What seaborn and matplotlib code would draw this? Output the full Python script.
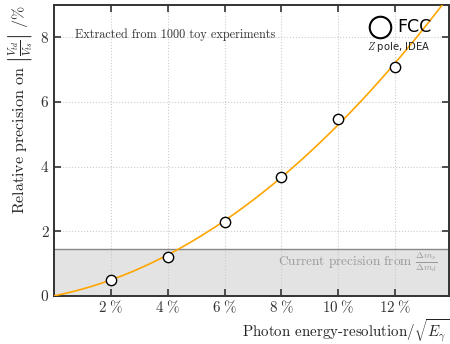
import numpy as np
import pandas as pd
import matplotlib
matplotlib.use("Agg")
import matplotlib.pyplot as plt
import seaborn as sns

# Data
resolution = [2, 4, 6, 8, 10, 12]          # photon energy resolution / sqrt(E) in %
precision = [0.50, 1.20, 2.28, 3.67, 5.48, 7.10]  # relative precision in %
current_precision = 1.45
xticks = [2, 4, 6, 8, 10, 12]
yticks = [0, 2, 4, 6, 8]

sns.set_theme(style="ticks")
plt.rcParams['font.family'] = 'serif'
plt.rcParams['font.serif'] = ['cmr10', 'DejaVu Serif']
plt.rcParams['mathtext.fontset'] = 'cm'
plt.rcParams['axes.formatter.use_mathtext'] = True

fig = plt.figure(figsize=(4.5, 3.44), dpi=100)
ax = fig.add_axes([0.12, 0.14, 0.878, 0.845])

df = pd.DataFrame({"res": resolution, "prec": precision})

# quadratic fit through origin (a*x + b*x^2)
X = np.column_stack([df.res, df.res ** 2])
coef, *_ = np.linalg.lstsq(X, df.prec, rcond=None)
xf = np.linspace(0, 14, 200)
fit = pd.DataFrame({"res": xf, "prec": coef[0] * xf + coef[1] * xf ** 2})

ax.axhspan(0, current_precision, color="#e3e3e3", zorder=0, lw=0)
ax.axhline(current_precision, color="#888888", lw=1.0, zorder=1)

sns.lineplot(data=fit, x="res", y="prec", ax=ax, color="#FFA500", lw=1.2, zorder=3)
sns.scatterplot(data=df, x="res", y="prec", ax=ax, s=55, facecolor="white",
                edgecolor="black", linewidth=1.0, zorder=4)

ax.set_xlim(0, 13.9)
ax.set_ylim(0, 9)
ax.set_xticks(xticks)
ax.set_xticklabels([f"${v}\\;\\%$" for v in xticks])
ax.set_yticks(yticks)
ax.set_yticklabels([str(v) for v in yticks])
ax.grid(True, color="#cccccc", ls=":", lw=0.8)
ax.tick_params(direction="in", top=True, right=True, length=5, width=1.2,
               colors="#333333", labelsize=11, labelcolor="#333333", pad=4)
ax.tick_params(axis="x", pad=2, labelsize=10.8)
for s in ax.spines.values():
    s.set_color("#333333")
    s.set_linewidth(1.4)

ax.set_xlabel("")
fig.text(0.998, 0.0, r"Photon energy-resolution$/\sqrt{E_\gamma}$", fontsize=10.8,
         color="#222222", ha="right", va="bottom")
ax.set_ylabel(r"Relative precision on $\left|\frac{V_{td}}{V_{ts}}\right|$ /%",
              fontsize=11.5, color="#222222", labelpad=4, loc="top")

ax.text(0.052, 0.9, "Extracted from 1000 toy experiments", transform=ax.transAxes,
        fontsize=8.8, color="#333333", va="center")
ax.text(0.97, 0.115, r"Current precision from $\frac{\Delta m_s}{\Delta m_d}$",
        transform=ax.transAxes, fontsize=9.6, color="#999999", ha="right", va="center")

# FCC logo
ax.plot([0.825], [0.926], transform=ax.transAxes, marker="o", markersize=15.5,
        mfc="none", mec="black", mew=1.5, zorder=5, clip_on=False)
ax.text(0.868, 0.926, "FCC", transform=ax.transAxes, fontsize=12.5,
        family="DejaVu Sans", va="center", ha="left", color="black")
ax.text(0.872, 0.857, r"$Z$ pole, IDEA", transform=ax.transAxes, fontsize=7.2,
        family="DejaVu Sans", va="center", ha="center", color="#222222")

fig.savefig("out.png", dpi=100)
